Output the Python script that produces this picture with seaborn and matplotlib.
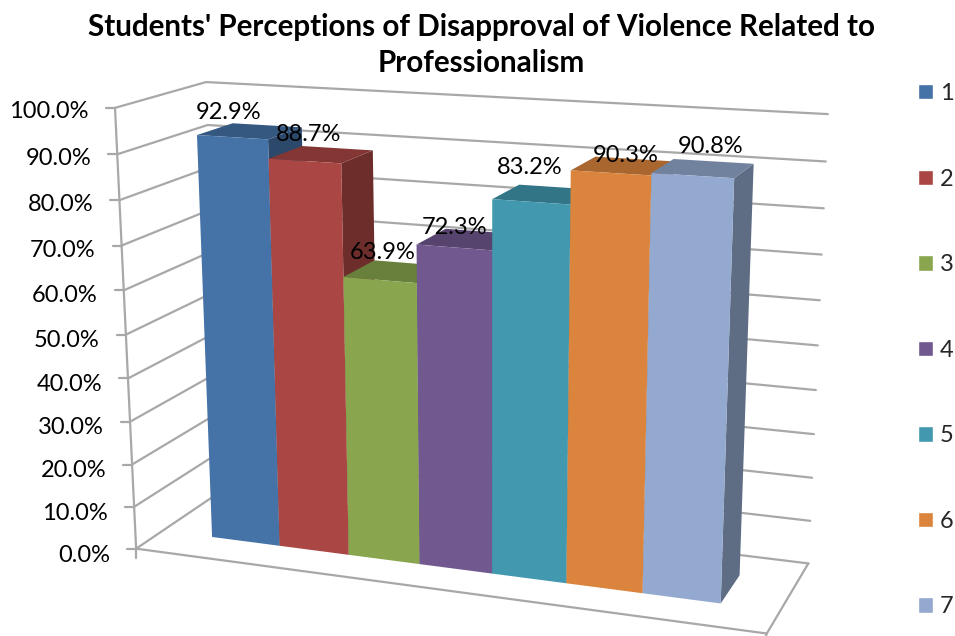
import numpy as np
import pandas as pd
import matplotlib
matplotlib.use("Agg")
import matplotlib.pyplot as plt
from matplotlib.patches import Polygon
from matplotlib.transforms import Affine2D, Transform
import seaborn as sns

TITLE = "Students' Perceptions of Disapproval of Violence Related to\nProfessionalism"
SERIES = ["1", "2", "3", "4", "5", "6", "7"]
VALUES = [92.9, 88.7, 63.9, 72.3, 83.2, 90.3, 90.8]
COLORS = ["#4572A7", "#AA4643", "#89A54E", "#71588F", "#4198AF", "#DB843D", "#93A9CF"]
YTICKS = [0, 10, 20, 30, 40, 50, 60, 70, 80, 90, 100]

W, H = 955, 636
FONT = "Lato"
GRID = "#a8a8a8"
Z0, Z1 = 0.30, 0.71      # bar depth inside the floor
TOP_SHADE, SIDE_SHADE = 0.77, 0.64
# hand-placed data label nudges, pixels from the bar's top centre
LABEL_NUDGE_X = [-21, -13, -13, -14, -15, 3, 7]
LABEL_NUDGE_Y = [-19, -20, -19, -12, -27, -10, -22]

# camera calibration: box corners (across, value, depth) -> image pixel
BOX = [(0, 0, 0), (0, 100, 0), (0, 0, 1), (0, 100, 1), (1, 0, 1), (1, 100, 1), (1, 0, 0)]
PIX = [(135, 549), (116, 108), (222, 491), (205, 82), (808, 564), (828, 114), (767, 633)]


def fit_camera(box, pix):
    A, b = [], []
    for (u, v, w), (px, py) in zip(box, pix):
        v = v / 100
        A.append([u, v, w, 1, 0, 0, 0, 0, -px * u, -px * v, -px * w]); b.append(px)
        A.append([0, 0, 0, 0, u, v, w, 1, -py * u, -py * v, -py * w]); b.append(py)
    sol = np.linalg.lstsq(np.array(A, float), np.array(b, float), rcond=None)[0]
    return np.append(sol, 1).reshape(3, 4)


CAM = fit_camera(BOX, PIX)


def project(u, v, w):
    q = CAM @ np.array([u, v / 100, w, 1.0])
    return q[0] / q[2], q[1] / q[2]


class DepthPlane(Transform):
    """Data (x, value) at a fixed depth -> image pixels."""
    input_dims = 2
    output_dims = 2

    def __init__(self, plane_depth):
        super().__init__()
        self.plane_depth = plane_depth

    def transform_non_affine(self, values):
        return np.array([project(x + 0.5, y, self.plane_depth) for x, y in np.atleast_2d(values)])


sns.set_theme(style="white")
plt.rcParams["font.family"] = [FONT, "DejaVu Sans"]

fig, ax = plt.subplots(figsize=(W / 100, H / 100), dpi=100)
ax.set_position([0, 0, 1, 1])
df = pd.DataFrame({"cat": ["all"] * len(SERIES), "series": SERIES, "value": VALUES})
sns.barplot(data=df, x="cat", y="value", hue="series", hue_order=SERIES, palette=COLORS,
            width=0.825, gap=0, saturation=1, errorbar=None, ax=ax, legend=True)
ax.set_xlim(-0.5, 0.5)
ax.set_ylim(0, 100)

px = Affine2D().scale(1 / W, -1 / H).translate(0, 1) + fig.transFigure


def seg(points, z=1, lw=1.6, color=GRID):
    xs, ys = zip(*points)
    ax.plot(xs, ys, transform=px, color=color, lw=lw, zorder=z, clip_on=False,
            solid_capstyle="round", solid_joinstyle="round")


# walls, floor and ticks
for t in YTICKS:
    a, b, c = project(0, t, 0), project(0, t, 1), project(1, t, 1)
    seg([a, b, c])
    seg([(a[0] - 9, a[1]), a])
    ax.text(a[0] - 26, a[1] + 4 + 3 * (1 - t / 100), f"{t:.1f}%", transform=px, ha="right",
            va="center", fontsize=17, color="black", clip_on=False)
seg([project(0, 0, 0), project(0, 100, 0)])
seg([project(0, 0, 0), project(1, 0, 0), project(1, 0, 1)])
p0, p1 = project(0, 0, 0), project(1, 0, 0)
seg([p0, (p0[0], p0[1] + 9)])
seg([p1, (p1[0] - 2, p1[1] + 6)])

# bars: seaborn's rectangles become the front faces, sides and tops are added from them
all_rects = list(ax.patches)
bars = sorted([r for r in all_rects if r.get_height() > 0], key=lambda r: r.get_x())
for r in all_rects:
    if r.get_height() <= 0:
        r.remove()
for i, r in enumerate(bars):
    x0, x1, h = r.get_x(), r.get_x() + r.get_width(), r.get_height()
    col = np.array(matplotlib.colors.to_rgb(r.get_facecolor()))
    u0, u1 = x0 + 0.5, x1 + 0.5
    side = [project(u1, 0, Z0), project(u1, 0, Z1), project(u1, h, Z1), project(u1, h, Z0)]
    top = [project(u0, h, Z0), project(u0, h, Z1), project(u1, h, Z1), project(u1, h, Z0)]
    ax.add_patch(Polygon(side, closed=True, transform=px, fc=col * SIDE_SHADE, lw=0,
                         zorder=3 + i, clip_on=False))
    ax.add_patch(Polygon(top, closed=True, transform=px, fc=col * TOP_SHADE, lw=0,
                         zorder=3 + i, clip_on=False))
    r.set_transform(DepthPlane(Z0) + px)
    r.set_linewidth(0)
    r.set_zorder(3.5 + i)
    r.set_clip_on(False)
    lx, ly = project((u0 + u1) / 2, h, (Z0 + Z1) / 2)
    ax.text(lx + LABEL_NUDGE_X[i], ly + LABEL_NUDGE_Y[i], f"{h:.1f}%", transform=px,
            ha="center", va="center", fontsize=17, color="black", zorder=20, clip_on=False)

ax.set_title(TITLE, x=481 / W, y=1 - 53 / H, va="center", ha="center", fontsize=21.3,
             fontweight="bold", color="black", linespacing=1.34)

sns.move_legend(ax, loc="upper left", bbox_to_anchor=(918 / W, 1 - 83 / H), title=None,
                frameon=False, fontsize=17, labelspacing=2.735, handlelength=0.635,
                handleheight=0.635, handletextpad=0.3, borderpad=0, borderaxespad=0)
ax.set_xlabel("")
ax.set_ylabel("")
ax.axis("off")
fig.savefig("out.png", dpi=100, facecolor="white")
